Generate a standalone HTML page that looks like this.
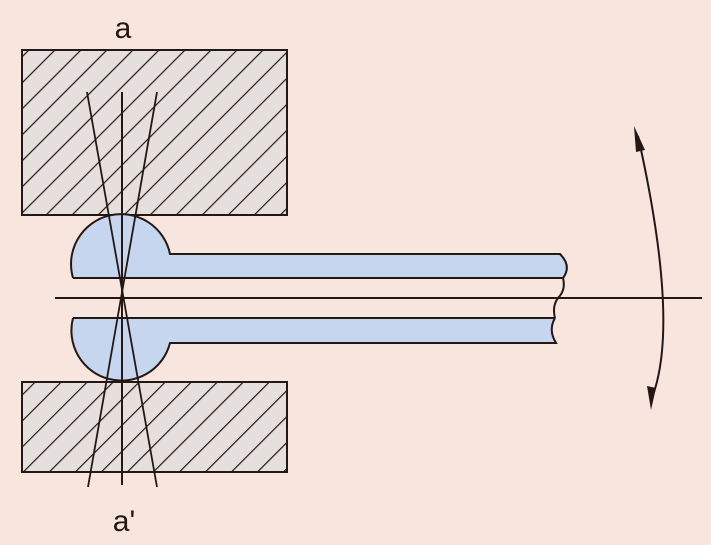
<!DOCTYPE html>
<html><head><style>body{margin:0;background:#f8e5dd}</style></head><body>
<svg width="711" height="540" viewBox="0 0 711 540" xmlns="http://www.w3.org/2000/svg">
<defs>
<pattern id="h" patternUnits="userSpaceOnUse" width="18.4" height="18.4" patternTransform="rotate(45)">
<rect width="18.4" height="18.4" fill="#e5e0dd"/>
<line x1="0" y1="0" x2="0" y2="18.4" stroke="#231815" stroke-width="2.4"/>
</pattern>
</defs>
<rect x="0" y="0" width="711" height="540" fill="#f8e5dd"/>
<rect x="22" y="50" width="265" height="165" fill="url(#h)" stroke="#231815" stroke-width="2"/>
<rect x="22" y="382" width="265" height="90" fill="url(#h)" stroke="#231815" stroke-width="2"/>
<path d="M73,278 A50,50 0 1 1 170,254 L560,254 Q572,266 563,278 Z" fill="#c6d6ee"/>
<path d="M73,278 A50,50 0 1 1 170,254 L560,254 Q572,266 563,278" fill="none" stroke="#231815" stroke-width="2"/>
<line x1="73" y1="278" x2="563" y2="278" stroke="#231815" stroke-width="2"/>
<path d="M73,318 A50,50 0 1 0 170,343 L556,343 Q548,330 555,318 Z" fill="#c6d6ee"/>
<path d="M73,318 A50,50 0 1 0 170,343 L556,343 Q548,330 555,318" fill="none" stroke="#231815" stroke-width="2"/>
<line x1="73" y1="318" x2="555" y2="318" stroke="#231815" stroke-width="2"/>
<path d="M563,278 Q566,290 558,298 Q552,306 555,318" fill="none" stroke="#231815" stroke-width="2"/>
<line x1="55" y1="298" x2="702" y2="298" stroke="#231815" stroke-width="2"/>
<line x1="122" y1="92" x2="122" y2="485" stroke="#231815" stroke-width="2"/>
<line x1="87" y1="92" x2="157" y2="487" stroke="#231815" stroke-width="1.8"/>
<line x1="157" y1="92" x2="88" y2="487" stroke="#231815" stroke-width="1.8"/>
<path d="M638,136 Q681,328 651,400" fill="none" stroke="#231815" stroke-width="2"/>
<polygon points="634,126 645,150 636,152" fill="#231815"/>
<polygon points="651,410 647,386 656,388" fill="#231815"/>
<text x="123" y="38" font-family="Liberation Sans, sans-serif" font-size="30" text-anchor="middle" fill="#231815">a</text>
<text x="124" y="531" font-family="Liberation Sans, sans-serif" font-size="30" text-anchor="middle" fill="#231815">a'</text>
</svg>
</body></html>
